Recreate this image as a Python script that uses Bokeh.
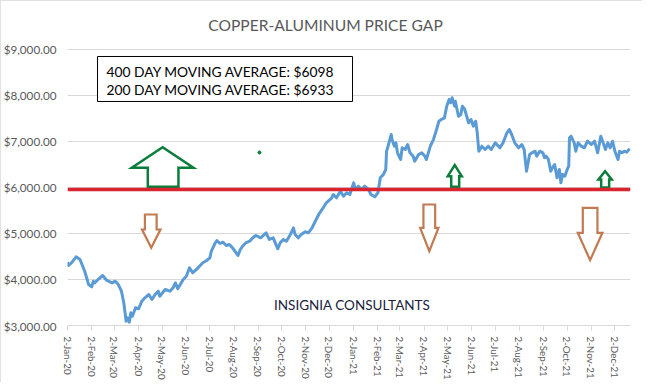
import pandas as pd
from bokeh.plotting import figure
from bokeh.models import (Range1d, FixedTicker, CustomJSTickFormatter, NumeralTickFormatter,
                          Label, BoxAnnotation, Span, ColumnDataSource)
from bokeh.embed import file_html
from bokeh.resources import INLINE

# ---------------- data ----------------
dates_2020 = ["2020-01-02", "2020-01-03", "2020-01-07", "2020-01-13", "2020-01-18", "2020-01-24", "2020-01-29",
              "2020-02-02", "2020-02-04", "2020-02-06", "2020-02-11", "2020-02-16", "2020-02-21", "2020-02-28",
              "2020-03-03", "2020-03-07", "2020-03-11", "2020-03-14", "2020-03-17", "2020-03-19", "2020-03-21",
              "2020-03-23", "2020-03-25", "2020-03-29", "2020-04-02", "2020-04-06", "2020-04-10", "2020-04-15",
              "2020-04-19", "2020-04-23", "2020-04-27", "2020-04-29", "2020-05-06", "2020-05-12", "2020-05-16",
              "2020-05-19", "2020-05-22", "2020-05-29", "2020-06-02", "2020-06-06", "2020-06-10", "2020-06-17",
              "2020-06-23", "2020-06-28", "2020-07-02", "2020-07-04", "2020-07-09", "2020-07-11", "2020-07-15",
              "2020-07-19", "2020-07-23", "2020-07-27", "2020-07-31", "2020-08-07", "2020-08-10", "2020-08-13",
              "2020-08-17", "2020-08-22", "2020-08-26", "2020-08-30", "2020-09-05", "2020-09-12", "2020-09-16",
              "2020-09-21", "2020-09-27", "2020-09-30", "2020-10-04", "2020-10-08", "2020-10-13", "2020-10-17",
              "2020-10-19", "2020-10-23", "2020-10-27", "2020-11-01", "2020-11-05", "2020-11-10", "2020-11-15",
              "2020-11-19", "2020-11-24", "2020-11-28", "2020-12-05", "2020-12-07", "2020-12-11", "2020-12-16",
              "2020-12-20", "2020-12-24", "2020-12-28"]
gap_2020 = [4376, 4304, 4363, 4493, 4435, 4180, 3891,
            3841, 3963, 3928, 4015, 4087, 3985, 3928,
            3963, 3891, 3746, 3493, 3093, 3167, 3072,
            3276, 3202, 3385, 3363, 3528, 3602, 3674,
            3565, 3674, 3746, 3637, 3783, 3746, 3820,
            3928, 3798, 4000, 4072, 4254, 4145, 4254,
            4363, 4413, 4472, 4615, 4798, 4848, 4783,
            4811, 4739, 4761, 4689, 4522, 4652, 4724,
            4798, 4833, 4906, 4957, 4906, 5015, 4870,
            4906, 4667, 4798, 4870, 4833, 4978, 5124,
            4978, 4906, 4978, 5037, 5015, 5130, 5304,
            5435, 5559, 5667, 5776, 5848, 5776, 5920,
            5811, 5885, 5848]

dates_2021 = ["2021-01-02", "2021-01-04", "2021-01-08", "2021-01-12", "2021-01-16", "2021-01-21", "2021-01-24",
              "2021-01-29", "2021-02-02", "2021-02-05", "2021-02-09", "2021-02-12", "2021-02-13", "2021-02-15",
              "2021-02-19", "2021-02-20", "2021-02-23", "2021-02-25", "2021-02-27", "2021-03-03", "2021-03-05",
              "2021-03-09", "2021-03-12", "2021-03-15", "2021-03-19", "2021-03-21", "2021-03-26", "2021-03-30",
              "2021-04-03", "2021-04-05", "2021-04-10", "2021-04-14", "2021-04-18", "2021-04-21", "2021-04-24",
              "2021-04-28", "2021-05-01", "2021-05-04", "2021-05-06", "2021-05-08", "2021-05-11", "2021-05-12",
              "2021-05-16", "2021-05-19", "2021-05-21", "2021-05-24", "2021-05-29", "2021-06-01", "2021-06-04",
              "2021-06-07", "2021-06-09", "2021-06-11", "2021-06-15", "2021-06-19", "2021-06-23", "2021-06-27",
              "2021-07-02", "2021-07-08", "2021-07-12", "2021-07-17", "2021-07-20", "2021-07-23", "2021-07-27",
              "2021-08-01", "2021-08-05", "2021-08-08", "2021-08-11", "2021-08-15", "2021-08-18", "2021-08-22",
              "2021-08-24", "2021-08-28", "2021-09-01", "2021-09-03", "2021-09-05", "2021-09-08", "2021-09-11",
              "2021-09-13", "2021-09-16", "2021-09-19", "2021-09-22", "2021-09-24", "2021-09-26", "2021-09-29",
              "2021-10-02", "2021-10-04", "2021-10-05", "2021-10-07", "2021-10-09", "2021-10-11", "2021-10-13",
              "2021-10-16", "2021-10-20", "2021-10-24", "2021-10-28", "2021-11-02", "2021-11-06", "2021-11-10",
              "2021-11-14", "2021-11-17", "2021-11-20", "2021-11-23", "2021-11-26", "2021-11-29", "2021-12-02",
              "2021-12-06", "2021-12-08", "2021-12-11", "2021-12-14", "2021-12-17", "2021-12-21"]
gap_2021 = [6102, 5957, 6029, 5957, 6029, 5957, 5848,
            5797, 5885, 6210, 6283, 6391, 6789, 6898,
            7152, 7043, 6898, 6971, 6754, 6609, 6863,
            6826, 6935, 6754, 6681, 6572, 6717, 6754,
            6681, 6609, 6898, 7043, 7261, 7441, 7478,
            7514, 7767, 7913, 7841, 7950, 7767, 7876,
            7550, 7587, 7767, 7696, 7406, 7478, 7333,
            7441, 7189, 6789, 6898, 6826, 6898, 6826,
            6971, 6863, 6971, 7189, 7261, 7152, 6971,
            6863, 6935, 6826, 6354, 6717, 6754, 6789,
            6681, 6789, 6754, 6645, 6681, 6609, 6354,
            6428, 6500, 6210, 6391, 6102, 6283, 6246,
            6391, 6463, 7080, 7115, 7043, 6971, 6789,
            6971, 6898, 6863, 7007, 6935, 7007, 6754,
            7115, 6971, 6826, 6971, 6863, 7007, 6789,
            6609, 6789, 6754, 6789, 6767, 6841]

y_ticks = [3000, 4000, 5000, 6000, 7000, 8000, 9000]
tick_start = "2020-01-02"
n_month_ticks = 24
threshold = 5957          # red horizontal line
avg_400 = 6098
avg_200 = 6933

title_text = "COPPER-ALUMINUM PRICE GAP"
box_lines = [f"400 DAY MOVING AVERAGE: ${avg_400}", f"200 DAY MOVING AVERAGE: ${avg_200}"]
footer_text = "INSIGNIA CONSULTANTS"

# ---------------- helpers ----------------
dates = pd.to_datetime(dates_2020 + dates_2021)
gap = gap_2020 + gap_2021
t0 = dates[0]


def ms(ts):
    return pd.Timestamp(ts).value / 1e6


def at(day):
    return ms(t0 + pd.Timedelta(days=day))


month_ticks = [ms(d) for d in pd.date_range(tick_start, periods=n_month_ticks,
                                             freq=pd.DateOffset(months=1))]

FONT = "Lato"
GRAY = "#595959"

# frame extends up to the title area so that the title can sit inside it
p = figure(frame_width=563, frame_height=318, output_backend="svg", toolbar_location=None,
           x_axis_type="datetime",
           x_range=Range1d(ms(dates[0]), ms(dates[-1]) + 86400000),
           y_range=Range1d(3000, 9913),
           min_border_left=61, min_border_right=12, min_border_top=7, min_border_bottom=48)
p.outline_line_color = None
p.background_fill_color = "white"
p.border_fill_color = "white"
p.styles = {"outline": "1px solid #d9d9d9", "outline-offset": "-1px"}

# axes
p.yaxis.ticker = FixedTicker(ticks=y_ticks)
p.yaxis.formatter = NumeralTickFormatter(format="$0,0.00")
p.yaxis.axis_line_color = None
p.yaxis.major_tick_line_color = None
p.yaxis.major_tick_out = 0
p.yaxis.major_tick_in = 0
p.yaxis.minor_tick_line_color = None
p.yaxis.minor_tick_out = 0
p.yaxis.major_label_standoff = 11
p.yaxis.major_label_text_font = FONT
p.yaxis.major_label_text_font_size = "11.7px"
p.yaxis.major_label_text_color = GRAY

p.xaxis.ticker = FixedTicker(ticks=month_ticks)
p.xaxis.formatter = CustomJSTickFormatter(code="""
    const d = new Date(tick);
    const m = ["Jan","Feb","Mar","Apr","May","Jun","Jul","Aug","Sep","Oct","Nov","Dec"][d.getUTCMonth()];
    return d.getUTCDate() + "-" + m + "-" + String(d.getUTCFullYear()).slice(2);
""")
p.xaxis.major_label_orientation = "vertical"
p.xaxis.axis_line_color = "#d9d9d9"
p.xaxis.major_tick_line_color = "#d9d9d9"
p.xaxis.major_tick_out = 5
p.xaxis.major_tick_in = 0
p.xaxis.minor_tick_line_color = None
p.xaxis.minor_tick_out = 0
p.xaxis.major_label_standoff = 6
p.xaxis.major_label_text_font = FONT
p.xaxis.major_label_text_font_size = "9.8px"
p.xaxis.major_label_text_color = GRAY

p.xgrid.visible = False
p.ygrid.grid_line_color = "#d9d9d9"

# series
src = ColumnDataSource(dict(date=dates, gap=gap))
p.line("date", "gap", source=src, line_color="#5B9BD5", line_width=3, line_join="round")

# threshold line
p.add_layout(Span(location=threshold, dimension="width", line_color="#DA2530", line_width=3.5))

# block arrows (annotation shapes): (head_l, shaft_l, shaft_r, head_r) in days, (base, neck, tip) in $
up_arrows = [((82.2, 102.7, 141.9, 161.1), (6015, 6428, 6876)),
             ((486.3, 490.7, 500.9, 504.2), (6015, 6246, 6485)),
             ((679.0, 682.5, 692.7, 696.0), (6000, 6174, 6354))]
down_arrows = [((95.3, 99.0, 114.0, 118.9), (5413, 5087, 4689)),
               ((451.0, 455.2, 470.2, 474.4), (5630, 5124, 4615)),
               ((652.6, 659.0, 677.7, 684.1), (5559, 5015, 4420))]


def arrow_shape(xs4, ys3):
    hl, sl, sr, hr = xs4
    base, neck, tip = ys3
    c = (hl + hr) / 2
    xs = [at(v) for v in (sl, sl, hl, c, hr, sr, sr)]
    ys = [base, neck, neck, tip, neck, neck, base]
    return xs, ys


up = [arrow_shape(a, b) for a, b in up_arrows]
dn = [arrow_shape(a, b) for a, b in down_arrows]
p.patches([u[0] for u in up], [u[1] for u in up], fill_color="white", line_color="#0A7D3B",
          line_width=2.5, line_join="miter")
p.patches([d[0] for d in dn], [d[1] for d in dn], fill_color="white", line_color="#C27A52",
          line_width=2.2, line_join="miter")
p.scatter([at(245.5)], [6761], size=3, color="#0A7D3B")

# text box
p.add_layout(BoxAnnotation(left=at(38.4), right=at(364.5), top=8848, bottom=7870,
                           fill_color="white", fill_alpha=1, line_color="black", line_width=1,
                           line_alpha=1))
for yv, txt in zip((8522, 8130), box_lines):
    p.add_layout(Label(x=at(49.9), y=yv, text=txt, text_font=FONT, text_font_size="13.8px",
                       text_color="black", text_baseline="middle", text_align="left"))

# title & footer
p.add_layout(Label(x=at(330), y=9543, text=title_text, text_font=FONT, text_font_size="15.6px",
                   text_color=GRAY, text_align="center", text_baseline="middle"))
p.add_layout(Label(x=at(364), y=3435, text=footer_text, text_font=FONT, text_font_size="13.5px",
                   text_color="#18223C", text_align="center", text_baseline="middle"))

open("out.html", "w").write(file_html(p, INLINE))
